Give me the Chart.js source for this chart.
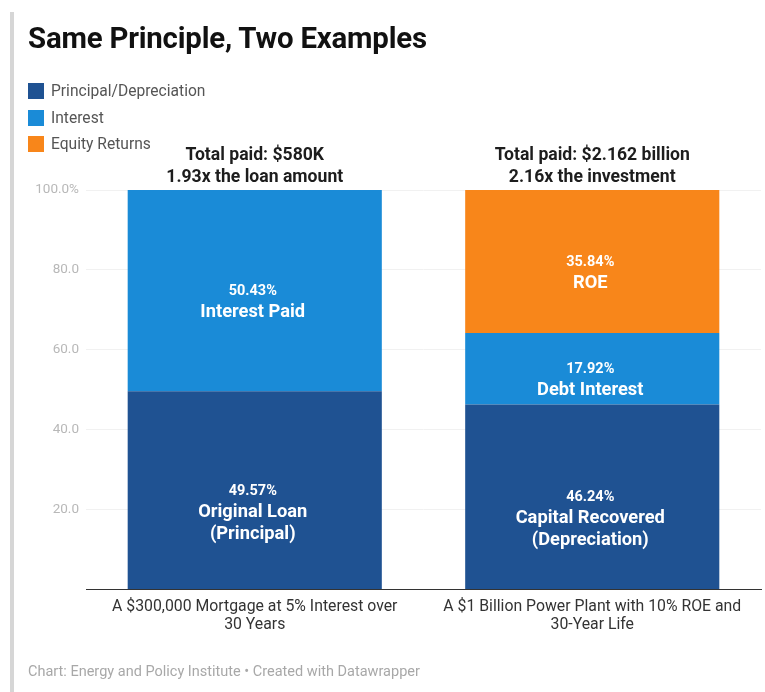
<!DOCTYPE html>
<html>
<head>
<meta charset="utf-8">
<script src="https://cdn.jsdelivr.net/npm/chart.js@4/dist/chart.umd.min.js"></script>
<style>
  html, body { margin: 0; padding: 0; background: #fff; }
  body { width: 765px; height: 692px; position: relative; overflow: hidden; font-family: Roboto, "Noto Sans", sans-serif; }
  #edge { position: absolute; left: 10px; top: 12px; width: 4px; bottom: 0; background: #d6d6d6; }
  #title { position: absolute; left: 28px; top: 20px; font-size: 29.4px; font-weight: 700; color: #111; line-height: 36px; letter-spacing: -0.2px; }
  #legend { position: absolute; left: 28px; top: 78px; }
  .item { display: flex; align-items: center; height: 26.5px; font-size: 15.6px; color: #555; }
  .sw { width: 16px; height: 16px; margin-right: 7px; }
  #footer { position: absolute; left: 28px; top: 663px; font-size: 14.5px; color: #a8a8a8; }
  #wrap { position: absolute; left: 0; top: 0; width: 765px; height: 692px; }
</style>
</head>
<body>
<div id="edge"></div>
<div id="wrap"><canvas id="chart" width="765" height="692"></canvas></div>
<div id="title">Same Principle, Two Examples</div>
<div id="legend"></div>
<div id="footer">Chart: Energy and Policy Institute • Created with Datawrapper</div>
<script>
// Categories (two-line axis labels)
const categories = [
  ["A $300,000 Mortgage at 5% Interest over", "30 Years"],
  ["A $1 Billion Power Plant with 10% ROE and", "30-Year Life"]
];

// Share of total paid, in percent
const principalDepreciation = [49.57, 46.24];
const interest = [50.43, 17.92];
const equityReturns = [null, 35.84];

// Labels written inside each segment
const principalNames = [["Original Loan", "(Principal)"], ["Capital Recovered", "(Depreciation)"]];
const interestNames = [["Interest Paid"], ["Debt Interest"]];
const equityNames = [[], ["ROE"]];

// Headline text above each bar
const totals = [
  ["Total paid: $580K", "1.93x the loan amount"],
  ["Total paid: $2.162 billion", "2.16x the investment"]
];

const yTicks = [20, 40, 60, 80, 100];

const seriesNames = ["Principal/Depreciation", "Interest", "Equity Returns"];
const colors = ["#1f5292", "#1a8bd7", "#f8861a"];

// HTML legend
const legend = document.getElementById('legend');
seriesNames.forEach((n, i) => {
  const d = document.createElement('div');
  d.className = 'item';
  d.innerHTML = '<span class="sw" style="background:' + colors[i] + '"></span>' + n;
  legend.appendChild(d);
});

const FONT = 'Roboto, "Noto Sans", sans-serif';

// Percent + name inside each segment, headline above each bar
const labelPlugin = {
  id: 'segmentLabels',
  afterDatasetsDraw(chart) {
    const ctx = chart.ctx;
    const y = chart.scales.y;
    const names = [principalNames, interestNames, equityNames];
    ctx.save();
    ctx.textAlign = 'center';
    ctx.textBaseline = 'middle';
    chart.data.datasets.forEach((ds, di) => {
      const meta = chart.getDatasetMeta(di);
      meta.data.forEach((bar, i) => {
        const v = ds.data[i];
        if (v == null) return;
        let base = 0;
        for (let k = 0; k < di; k++) base += chart.data.datasets[k].data[i] || 0;
        const cy = y.getPixelForValue(base + v / 2) + 1;
        ctx.fillStyle = '#ffffff';
        ctx.font = '700 14.5px ' + FONT;
        ctx.fillText(v.toFixed(2) + '%', bar.x - 2, cy);
        ctx.font = '700 18.3px ' + FONT;
        names[di][i].forEach((line, li) => {
          ctx.fillText(line, bar.x - 2, cy + 21 + li * 22);
        });
      });
    });
    const meta0 = chart.getDatasetMeta(0);
    ctx.fillStyle = '#1d1d1d';
    ctx.font = '700 17.6px ' + FONT;
    meta0.data.forEach((bar, i) => {
      ctx.fillText(totals[i][0], bar.x, 156);
      ctx.fillText(totals[i][1], bar.x, 178);
    });
    ctx.restore();
  }
};

new Chart(document.getElementById('chart'), {
  type: 'bar',
  data: {
    labels: categories,
    datasets: [
      { label: seriesNames[0], data: principalDepreciation, backgroundColor: colors[0] },
      { label: seriesNames[1], data: interest, backgroundColor: colors[1] },
      { label: seriesNames[2], data: equityReturns, backgroundColor: colors[2] }
    ]
  },
  options: {
    responsive: false,
    animation: false,
    devicePixelRatio: 1,
    layout: { padding: { top: 190, right: 4, bottom: 53, left: 0 } },
    datasets: { bar: { barPercentage: 1, categoryPercentage: 0.753, borderWidth: 0 } },
    plugins: { legend: { display: false }, tooltip: { enabled: false } },
    scales: {
      x: {
        stacked: true,
        grid: { display: false, drawTicks: false },
        border: { display: true, color: '#333', width: 1 },
        ticks: { color: '#333', font: { family: FONT, size: 15.8, lineHeight: 1.15 }, padding: 9, maxRotation: 0, autoSkip: false },
        afterFit(s) { s.height = 50; }
      },
      y: {
        stacked: true,
        min: 0,
        max: 100,
        afterBuildTicks(s) { s.ticks = yTicks.map(v => ({ value: v })); },
        grid: { color: '#f1f1f1', drawTicks: false },
        border: { display: false },
        ticks: {
          color: '#b8b8b8',
          font: { family: FONT, size: 13.5 },
          padding: 7,
          callback: v => v === 100 ? '100.0%' : v.toFixed(1)
        },
        afterFit(s) { s.width = 86; }
      }
    }
  },
  plugins: [labelPlugin]
});
</script>
</body>
</html>
